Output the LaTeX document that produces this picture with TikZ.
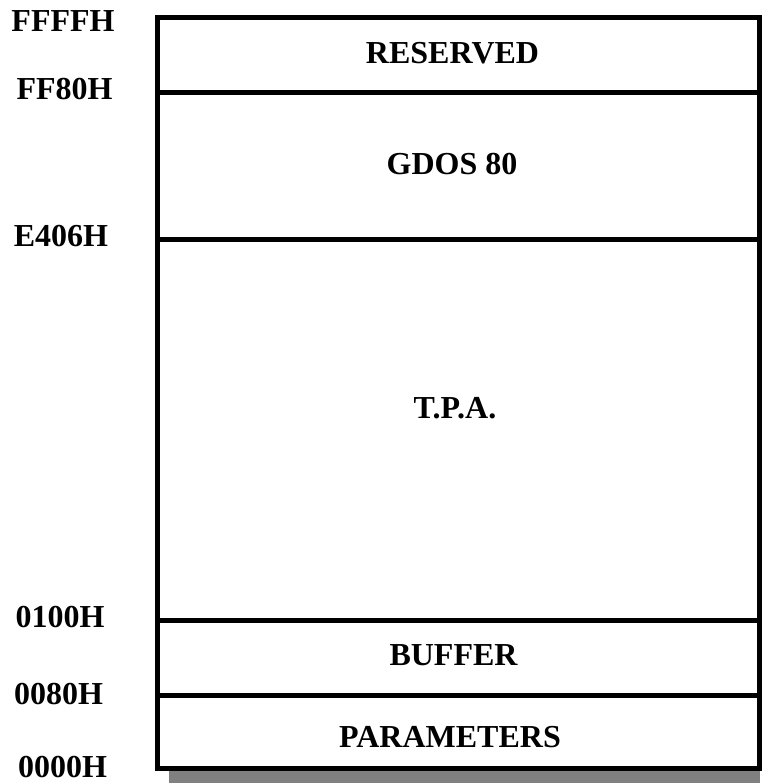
\documentclass[tikz,border=0pt]{standalone}
\usepackage{fontspec}
\setmainfont{Liberation Serif}
\begin{document}
\begin{tikzpicture}[x=1pt,y=-1pt,
  lbl/.style={font=\bfseries\fontsize{32}{32}\selectfont, inner sep=0pt, anchor=center},
  border/.style={line width=5pt, draw=black},
  shadowfill/.style={fill=black!50, draw=none}]
\useasboundingbox (0,0) rectangle (762,783);
% shadow
\fill[shadowfill] (169,30) rectangle (760,790);
% box
\coordinate (tl) at (157.5,17.5);
\coordinate (br) at (759.5,768.5);
\filldraw[border, fill=white, line join=miter] (tl) rectangle (br);
% dividers
\coordinate (d1l) at (157.5,92.5);  \coordinate (d1r) at (759.5,92.5);
\coordinate (d2l) at (157.5,240);   \coordinate (d2r) at (759.5,240);
\coordinate (d3l) at (157.5,620.5); \coordinate (d3r) at (759.5,620.5);
\coordinate (d4l) at (157.5,695.5); \coordinate (d4r) at (759.5,695.5);
\draw[border] (d1l) -- (d1r);
\draw[border] (d2l) -- (d2r);
\draw[border] (d3l) -- (d3r);
\draw[border] (d4l) -- (d4r);
% region labels
\node[lbl] (reserved) at (452.5,53) {RESERVED};
\node[lbl] (gdos) at (452,164) {GDOS 80};
\node[lbl] (tpa) at (455,408.5) {T.P.A.};
\node[lbl] (buffer) at (453.5,655.5) {BUFFER};
\node[lbl] (params) at (450,737) {PARAMETERS};
% address labels
\node[lbl] (a1) at (63,21.5) {FFFFH};
\node[lbl] (a2) at (64.5,89) {FF80H};
\node[lbl] (a3) at (61,236.5) {E406H};
\node[lbl] (a4) at (60,617.5) {0100H};
\node[lbl] (a5) at (58.5,694.5) {0080H};
\node[lbl] (a6) at (62.5,767.5) {0000H};
\end{tikzpicture}
\end{document}
